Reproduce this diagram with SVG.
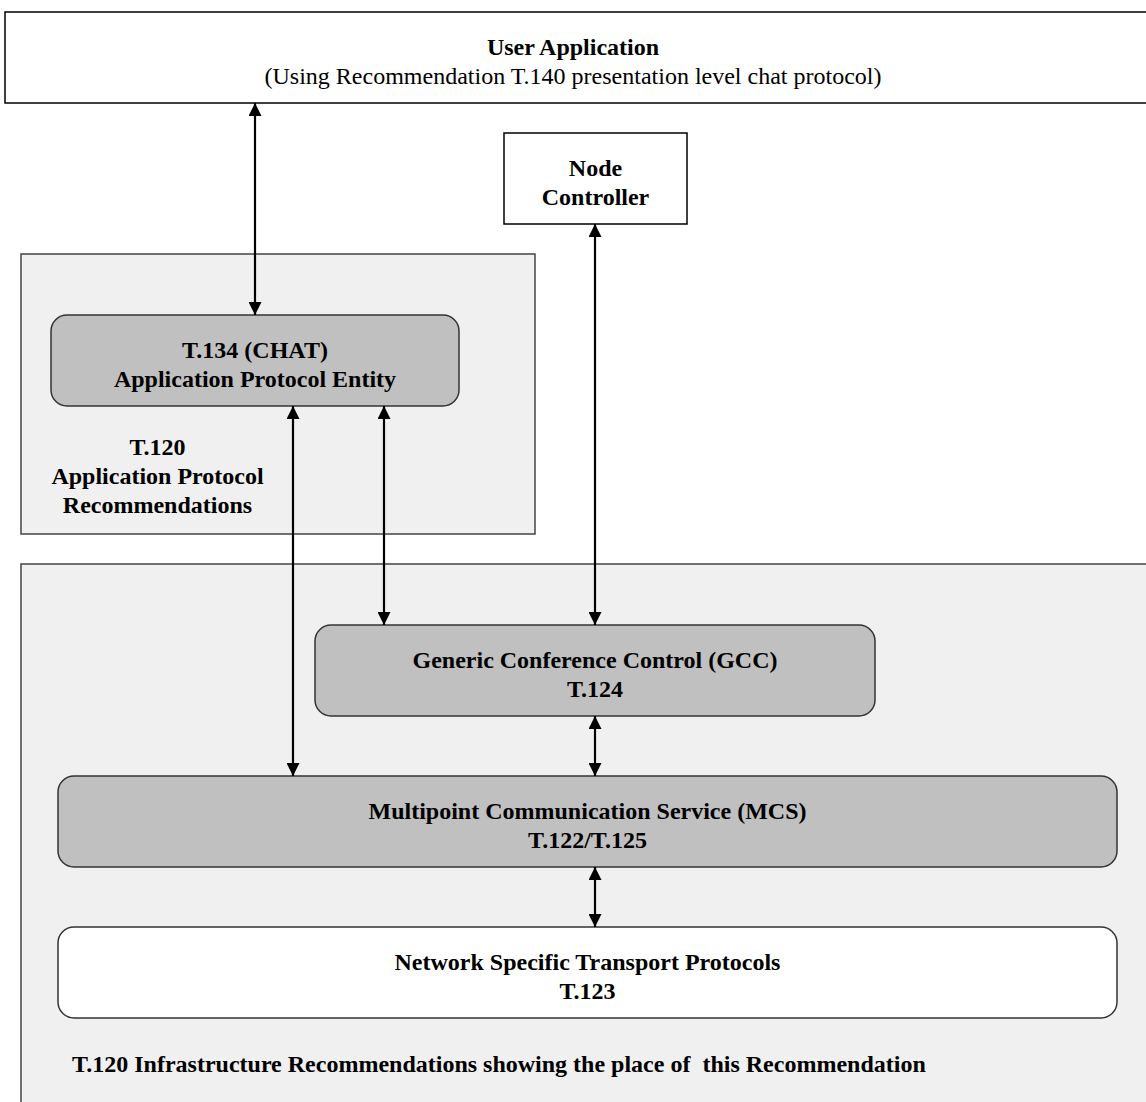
<svg xmlns="http://www.w3.org/2000/svg" width="1146" height="1102" viewBox="0 0 1146 1102">
<style>
text { font-family: "Liberation Serif", "Times New Roman", serif; font-size: 24px; fill: #000; text-anchor: middle; }
.b { font-weight: bold; }
.plain { fill: #ffffff; stroke: #000; stroke-width: 1.5; }
.area { fill: #f0f0f0; stroke: #444; stroke-width: 1.5; }
.ent { fill: #c0c0c0; stroke: #333; stroke-width: 1.5; }
.tr { fill: #ffffff; stroke: #333; stroke-width: 1.5; }
.c { stroke: #000; stroke-width: 2.2; fill: none; marker-start: url(#ah); marker-end: url(#ah); }
</style>
<defs>
<marker id="ah" markerUnits="userSpaceOnUse" markerWidth="13" markerHeight="13" refX="13" refY="6.5" orient="auto-start-reverse" viewBox="0 0 13 13">
<path d="M0,0 L13,6.5 L0,13 z" fill="#000"/>
</marker>
</defs>
<rect width="1146" height="1102" fill="#fff"/>
<g id="user-application">
<rect class="plain" x="5" y="12" width="1150" height="91"/>
<text class="b" x="573" y="55">User Application</text>
<text x="573" y="84">(Using Recommendation T.140 presentation level chat protocol)</text>
</g>
<g id="node-controller">
<rect class="plain" x="504" y="133" width="183" height="91"/>
<text class="b" x="595.5" y="176">Node</text>
<text class="b" x="595.5" y="205">Controller</text>
</g>
<g id="app-protocol-area">
<rect class="area" x="21" y="254" width="514" height="280"/>
<text class="b" x="157.5" y="455">T.120</text>
<text class="b" x="157.5" y="484">Application Protocol</text>
<text class="b" x="157.5" y="513">Recommendations</text>
</g>
<g id="t134">
<rect class="ent" x="51" y="315" width="408" height="91" rx="16"/>
<text class="b" x="255" y="358">T.134 (CHAT)</text>
<text class="b" x="255" y="387">Application Protocol Entity</text>
</g>
<g id="infrastructure-area">
<rect class="area" x="21" y="564" width="1140" height="560"/>
<text class="b" x="72" y="1072" style="text-anchor:start; white-space:pre">T.120 Infrastructure Recommendations showing the place of  this Recommendation</text>
</g>
<g id="gcc">
<rect class="ent" x="315" y="625" width="560" height="91" rx="16"/>
<text class="b" x="595" y="668">Generic Conference Control (GCC)</text>
<text class="b" x="595" y="697">T.124</text>
</g>
<g id="mcs">
<rect class="ent" x="58" y="776" width="1059" height="91" rx="16"/>
<text class="b" x="587.5" y="819">Multipoint Communication Service (MCS)</text>
<text class="b" x="587.5" y="848">T.122/T.125</text>
</g>
<g id="transport">
<rect class="tr" x="58" y="927" width="1059" height="91" rx="16"/>
<text class="b" x="587.5" y="970">Network Specific Transport Protocols</text>
<text class="b" x="587.5" y="999">T.123</text>
</g>
<g id="connectors">
<line class="c" x1="255" y1="103" x2="255" y2="315"/>
<line class="c" x1="595" y1="224" x2="595" y2="625"/>
<line class="c" x1="293" y1="406" x2="293" y2="776"/>
<line class="c" x1="384" y1="406" x2="384" y2="625"/>
<line class="c" x1="595" y1="716" x2="595" y2="776"/>
<line class="c" x1="595" y1="867" x2="595" y2="927"/>
</g>
</svg>
